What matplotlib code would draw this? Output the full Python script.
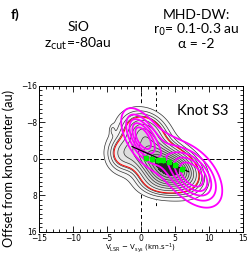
#!/usr/bin/env python3
"""Position-velocity diagram of knot S3 (SiO) with MHD disk-wind model contours."""

import matplotlib
matplotlib.use('Agg')
import matplotlib.pyplot as plt
import numpy as np
from matplotlib.ticker import MultipleLocator

# Observed SiO emission, as gaussian blobs: x0, y0, sigma_x, sigma_y, rho, amplitude
sio_x0 = [3.0, 0.5, -2.8, 6.0, 3.0, -4.2]
sio_y0 = [1.0, -6.0, -1.0, 2.5, 5.0, -6.3]
sio_sx = [2.8, 2.0, 1.4, 1.5, 2.2, 0.25]
sio_sy = [3.2, 2.6, 2.4, 2.2, 2.0, 0.7]
sio_rho = [0.45, 0.2, 0.0, 0.2, 0.0, 0.0]
sio_amp = [1.0, 0.45, 0.25, 0.3, 0.25, 0.07]
sio_levels = [0.05, 0.1, 0.15, 0.2, 0.3, 0.4, 0.5, 0.6, 0.7, 0.8, 0.9, 1.0]
sio_red_level = [0.22]

# MHD-DW model emission
mod_x0 = [0.2, 7.7, 4.0]
mod_y0 = [-4.7, 3.6, -0.3]
mod_sx = [1.3, 1.9, 3.5]
mod_sy = [2.8, 3.1, 5.0]
mod_rho = [0.55, 0.45, 0.75]
mod_amp = [1.0, 1.0, 0.3]
mod_levels = [0.1, 0.25, 0.43, 0.63, 0.85]

# Centroid positions per velocity channel and linear fit
cen_v = [0.7, 1.6, 2.5, 3.3, 4.2, 5.0, 6.0]
cen_off = [-0.2, 0.1, 0.2, 0.2, 0.6, 1.3, 2.3]
cen_err = [0.6, 0.6, 0.6, 0.6, 0.6, 0.6, 0.6]
fit_v = [-1.3, 7.0]
fit_off = [-2.7, 2.8]

v_sys_line = 2.2


def blob_field(xx, yy, x0, y0, sx, sy, rho, amp):
    field = np.zeros_like(xx)
    for a, b, c, d, r, A in zip(x0, y0, sx, sy, rho, amp):
        u = (xx - a) / c
        w = (yy - b) / d
        q = (u ** 2 - 2 * r * u * w + w ** 2) / (1 - r ** 2)
        field += A * np.exp(-0.5 * q)
    return field


plt.rcParams['font.family'] = ['Lato', 'DejaVu Sans']

fig = plt.figure(figsize=(2.49, 2.54), dpi=100)
ax = fig.add_axes([0.157, 0.087, 0.818, 0.575])

xg = np.linspace(-15, 15, 301)
yg = np.linspace(-16, 16, 321)
xx, yy = np.meshgrid(xg, yg)
sio = blob_field(xx, yy, sio_x0, sio_y0, sio_sx, sio_sy, sio_rho, sio_amp)
mod = blob_field(xx, yy, mod_x0, mod_y0, mod_sx, mod_sy, mod_rho, mod_amp)

# reference lines (under the emission)
ax.axhline(0, color='black', lw=0.7, ls=(0, (5, 2)), zorder=1)
ax.axvline(0, color='black', lw=0.7, ls=(0, (4, 3)), zorder=1)
ax.plot([v_sys_line, v_sys_line], [-16, 10.5], color='black', lw=0.7,
        ls=(0, (3, 3)), zorder=1)

ax.contourf(xx, yy, sio, levels=sio_levels + [3.0], cmap='Greys',
            vmin=-0.1, vmax=2.3, zorder=2)
ax.contour(xx, yy, sio, levels=sio_levels, colors='#333333',
           linewidths=0.5, zorder=3)
ax.contour(xx, yy, sio, levels=sio_red_level, colors='red',
           linewidths=0.7, zorder=4)
ax.contour(xx, yy, mod, levels=mod_levels, colors='magenta',
           linewidths=1.3, zorder=5)

ax.plot(fit_v, fit_off, color='black', lw=0.9, zorder=6)
ax.errorbar(cen_v, cen_off, yerr=cen_err, fmt='s', color='#00ee00',
            ms=3.2, elinewidth=0.8, capsize=0, zorder=7)

ax.set_xlim(-15, 15)
ax.set_ylim(16, -16)
ax.xaxis.set_major_locator(MultipleLocator(5))
ax.xaxis.set_minor_locator(MultipleLocator(1))
ax.yaxis.set_major_locator(MultipleLocator(8))
ax.yaxis.set_minor_locator(MultipleLocator(1))
ax.tick_params(which='both', direction='in', top=True, right=True,
               width=0.6, labelsize=5.5, pad=1.5)
ax.tick_params(which='major', length=4)
ax.tick_params(which='minor', length=2)
for lab in ax.get_xticklabels() + ax.get_yticklabels():
    lab.set_family('DejaVu Sans')
for sp in ax.spines.values():
    sp.set_linewidth(0.7)

ax.set_xlabel(r'V$_{\rm LSR}$ $-$ V$_{\rm sys}$ (km.s$^{-1}$)',
              fontsize=5.0, family='DejaVu Sans', labelpad=-1.0)
ax.text(0.93, 0.83, 'Knot S3', transform=ax.transAxes, fontsize=10.5,
        ha='right', va='center', zorder=8)

fig.text(8.5 / 249, 1 - 168 / 254, 'Offset from knot center (au)',
         rotation=90, fontsize=9.2, ha='center', va='center')
fig.text(15 / 249, 1 - 15 / 254, 'f)', fontsize=10, weight='bold',
         ha='center', va='center')
fig.text(78 / 249, 1 - 27 / 254, 'SiO', fontsize=10, ha='center', va='center')
fig.text(78 / 249, 1 - 44 / 254, r'z$_{\rm cut}$=-80au', fontsize=10,
         ha='center', va='center')
fig.text(196 / 249, 1 - 15 / 254, 'MHD-DW:', fontsize=10,
         ha='center', va='center')
fig.text(196 / 249, 1 - 30 / 254, r'r$_{\rm 0}$= 0.1-0.3 au', fontsize=10,
         ha='center', va='center')
fig.text(196 / 249, 1 - 44 / 254, 'α = -2', fontsize=10,
         ha='center', va='center')

fig.savefig('out.png', dpi=100)
